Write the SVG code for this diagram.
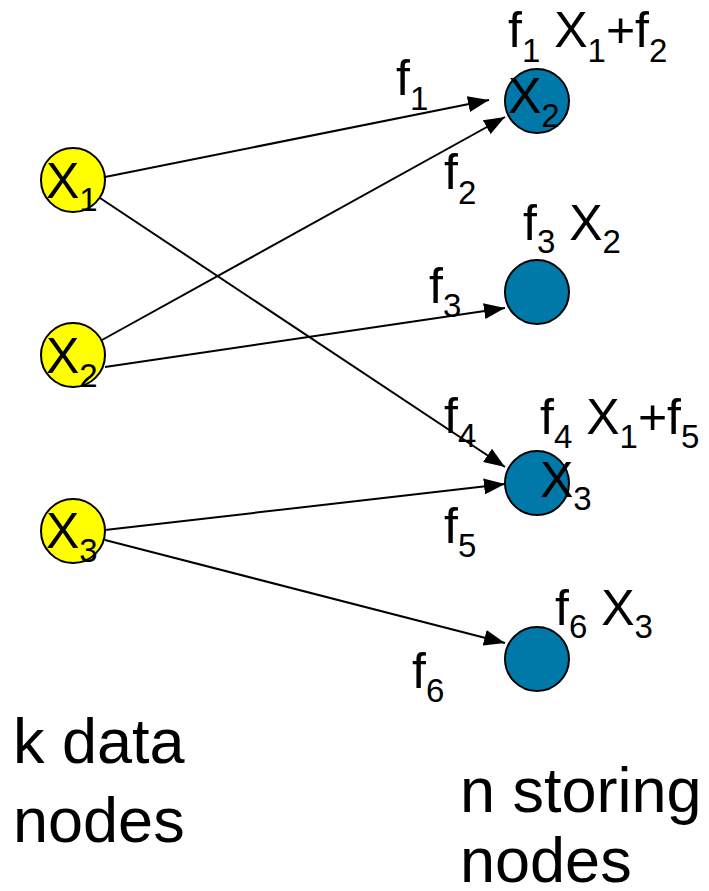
<svg xmlns="http://www.w3.org/2000/svg" width="709" height="891" viewBox="0 0 709 891">
<style>
text{font-family:"Liberation Sans",Arial,sans-serif;fill:#000}
.m{font-size:50px}
.s{font-size:33px}
.big{font-size:63px}
.data{fill:#ffff00;stroke:#000;stroke-width:2}
.store{fill:#0078a8;stroke:#000;stroke-width:2}
.edge{stroke:#000;stroke-width:2;fill:none;marker-end:url(#ah)}
</style>
<defs>
<marker id="ah" markerUnits="userSpaceOnUse" markerWidth="22" markerHeight="16" refX="21" refY="8" orient="auto">
<path d="M0,0 L21,8 L0,16 z" fill="#000"/>
</marker>
</defs>
<g id="connectors">
<line class="edge" x1="105" y1="177" x2="489" y2="100"/>
<line class="edge" x1="102" y1="340" x2="505" y2="117"/>
<line class="edge" x1="100" y1="198" x2="505" y2="467"/>
<line class="edge" x1="105" y1="367" x2="505" y2="308"/>
<line class="edge" x1="105" y1="530" x2="505" y2="484"/>
<line class="edge" x1="105" y1="540" x2="505" y2="643"/>
<text class="m" x="396" y="95">f<tspan class="s" dy="15">1</tspan></text>
<text class="m" x="444" y="189">f<tspan class="s" dy="15">2</tspan></text>
<text class="m" x="429" y="303">f<tspan class="s" dy="14">3</tspan></text>
<text class="m" x="444" y="433">f<tspan class="s" dy="14">4</tspan></text>
<text class="m" x="444" y="543">f<tspan class="s" dy="14">5</tspan></text>
<text class="m" x="412" y="688">f<tspan class="s" dy="14">6</tspan></text>
</g>
<g id="x1">
<circle class="data" cx="73" cy="180" r="32"/>
<text class="m" x="46" y="198">X<tspan class="s" dy="13">1</tspan></text>
</g>
<g id="x2">
<circle class="data" cx="73" cy="355" r="32"/>
<text class="m" x="46" y="373">X<tspan class="s" dy="14">2</tspan></text>
</g>
<g id="x3">
<circle class="data" cx="73" cy="531" r="32"/>
<text class="m" x="46" y="548">X<tspan class="s" dy="14">3</tspan></text>
</g>
<g id="s1">
<circle class="store" cx="537" cy="101" r="32"/>
<text class="m" x="508" y="113">X<tspan class="s" dy="14">2</tspan></text>
<text class="m" x="508" y="47">f<tspan class="s" dy="15">1</tspan><tspan dy="-15"> X</tspan><tspan class="s" dy="15">1</tspan><tspan dy="-15">+f</tspan><tspan class="s" dy="15">2</tspan></text>
</g>
<g id="s2">
<circle class="store" cx="537" cy="292" r="32"/>
<text class="m" x="523" y="240">f<tspan class="s" dy="13">3</tspan><tspan dy="-13"> X</tspan><tspan class="s" dy="13">2</tspan></text>
</g>
<g id="s3">
<circle class="store" cx="537" cy="483" r="32"/>
<text class="m" x="540" y="497">X<tspan class="s" dy="13">3</tspan></text>
<text class="m" x="540" y="434">f<tspan class="s" dy="14">4</tspan><tspan dy="-14"> X</tspan><tspan class="s" dy="14">1</tspan><tspan dy="-14">+f</tspan><tspan class="s" dy="14">5</tspan></text>
</g>
<g id="s4">
<circle class="store" cx="537" cy="659" r="32"/>
<text class="m" x="555" y="625">f<tspan class="s" dy="13">6</tspan><tspan dy="-13"> X</tspan><tspan class="s" dy="13">3</tspan></text>
</g>
<g id="captions">
<text class="big" x="13" y="763">k data</text>
<text class="big" x="13" y="842">nodes</text>
<text class="big" x="460" y="812">n storing</text>
<text class="big" x="460" y="882">nodes</text>
</g>
</svg>
